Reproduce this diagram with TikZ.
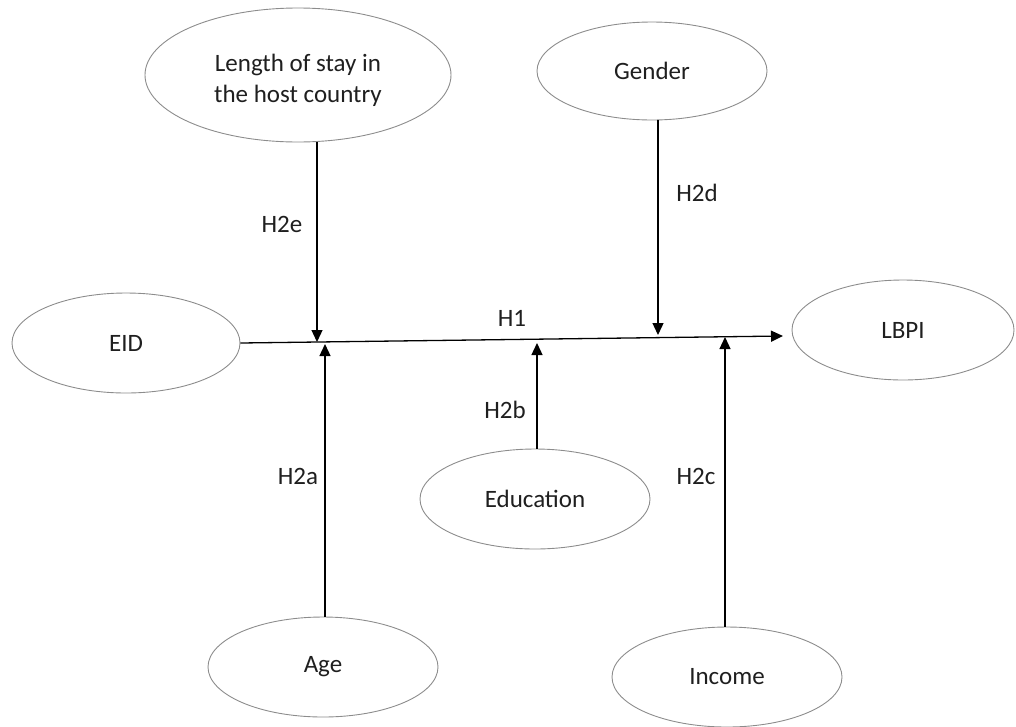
\documentclass[tikz,border=0pt]{standalone}
\usepackage{fontspec}
\setmainfont{Carlito}
\usetikzlibrary{shapes.geometric,arrows.meta}

\tikzset{
  var/.style={ellipse, draw=black!45, line width=0.9pt, inner sep=0pt,
    text=black!88, align=center,
    font=\fontsize{25}{31}\selectfont},
  link/.style={line width=1.3pt, -{Triangle[length=12pt,width=11pt]}},
  hyp/.style={text=black!88, font=\fontsize{25}{31}\selectfont, inner sep=0pt}
}
% lower a line of text without changing the space it reserves
\newcommand{\dropline}[1]{\raisebox{-5pt}[\height][\depth]{#1}}

\begin{document}
\begin{tikzpicture}[x=1pt,y=-1pt]
  \useasboundingbox (0,0) rectangle (1016,726);

  % constructs
  \node[var, minimum width=306pt, minimum height=134pt] (stay)   at (298,75)
    {\dropline{Length of stay in}\\\dropline{the host country}};
  \node[var, minimum width=230pt, minimum height=98pt]  (gender) at (652,71)  {Gender};
  \node[var, minimum width=228pt, minimum height=100pt] (eid)    at (126,343) {EID};
  \node[var, minimum width=222pt, minimum height=100pt] (lbpi)   at (903,330) {LBPI};
  \node[var, minimum width=230pt, minimum height=100pt] (edu)    at (535,499) {Education};
  \node[var, minimum width=230pt, minimum height=100pt] (age)    at (323,667) {Age};
  \node[var, minimum width=230pt, minimum height=100pt] (income) at (727,677) {Income};

  % points where the moderating paths meet the main path
  \coordinate (h1end) at (783,336);
  \coordinate (m2e) at (317,342);
  \coordinate (m2d) at (658,335);
  \coordinate (m2a) at (325,344);
  \coordinate (m2b) at (537,343);
  \coordinate (m2c) at (725,337);

  % main effect
  \draw[link] (eid.east) -- (h1end);

  % moderating effects
  \draw[link] (stay.south -| m2e) -- (m2e);
  \draw[link] (gender.south -| m2d) -- (m2d);
  \draw[link] (age.north -| m2a) -- (m2a);
  \draw[link] (edu.north -| m2b) -- (m2b);
  \draw[link] (income.north -| m2c) -- (m2c);

  % hypothesis labels
  \node[hyp] (lh1)  at (512,318) {H1};
  \node[hyp] (lh2e) at (282,224) {H2e};
  \node[hyp] (lh2d) at (697,193) {H2d};
  \node[hyp] (lh2a) at (298,476) {H2a};
  \node[hyp] (lh2b) at (505,410) {H2b};
  \node[hyp] (lh2c) at (696,476) {H2c};
\end{tikzpicture}
\end{document}
